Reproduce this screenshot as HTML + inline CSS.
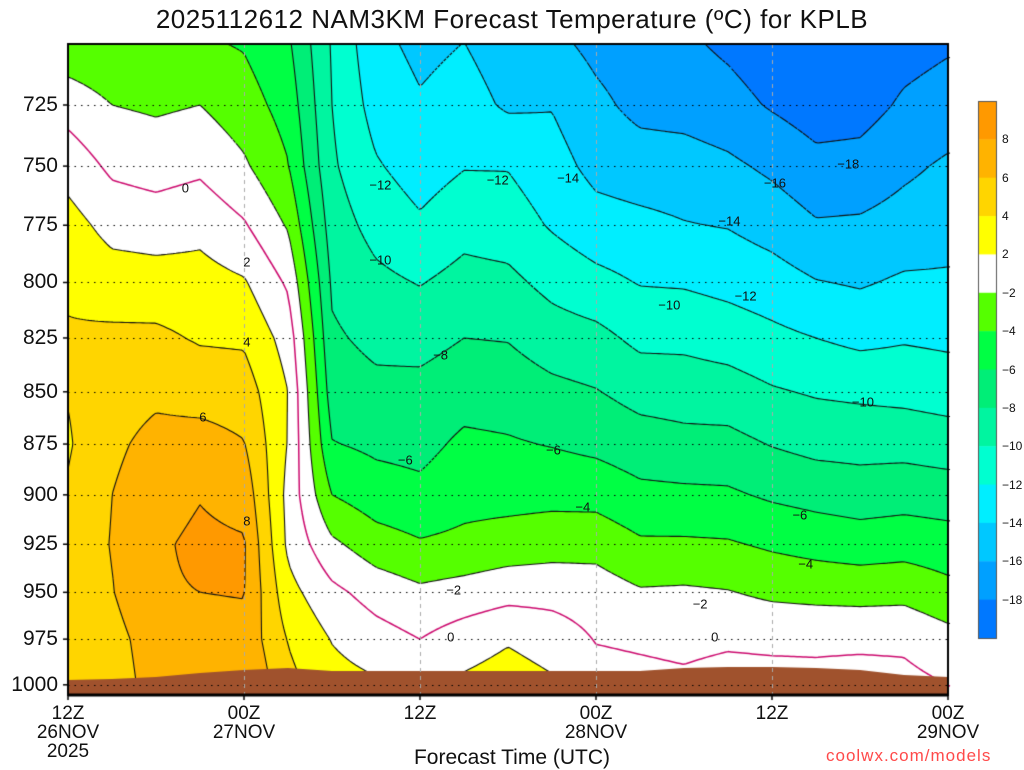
<!DOCTYPE html>
<html><head><meta charset="utf-8">
<style>
html,body{margin:0;padding:0;background:#fff;}
body{width:1024px;height:768px;position:relative;overflow:hidden;font-family:"Liberation Sans",sans-serif;color:#111;}
.t{position:absolute;white-space:nowrap;}
.yl{position:absolute;right:966px;font-size:21px;transform:translateY(-50%);}
.xl{position:absolute;font-size:19px;transform:translateX(-50%);text-align:center;line-height:19px;}
.cl{position:absolute;font-size:13px;transform:translate(-50%,-50%);}
.cb{position:absolute;left:1002px;font-size:12px;transform:translateY(-50%);}
</style></head>
<body>
<div class="t" style="left:0;width:1024px;text-align:center;top:4px;font-size:26px;letter-spacing:0.5px;">2025112612 NAM3KM Forecast Temperature (ºC) for KPLB</div>
<canvas id="cv" width="1024" height="768" style="position:absolute;left:0;top:0;"></canvas>
<div id="labels"></div>
<div class="t" style="left:0;width:1024px;text-align:center;top:746px;font-size:21px;">Forecast Time (UTC)</div>
<div class="t" style="left:826px;top:746px;font-size:17px;color:#ff4a4a;letter-spacing:1px;">coolwx.com/models</div>
<script>
// ---- data ----
const times = [0,3,6,9,12,15,18,21,24,27,30,33,36,39,42,45,48,51,54,57,60];
const levels = [700,725,750,775,800,825,850,875,900,925,950,975,1000];
const h00=[-3.5,-0.8,1.2,2.8,3.7,4.2,4.1,3.8,4.2,4.7,4.7,4.3,4.3];
const h03=[-3.8,-2.0,-0.4,1.3,3.0,4.4,5.1,5.6,6.0,6.1,5.9,5.3,5.0];
const h06=[-3.8,-2.3,-0.8,1.0,2.9,4.4,5.6,6.6,7.2,7.7,7.8,7.0,6.8];
const h09=[-3.8,-2.0,-0.4,1.4,2.8,3.8,5.2,6.8,7.9,8.4,8.0,7.3,7.8];
const h12=[-4.2,-3.1,-1.7,0.2,2.2,3.7,5.0,6.1,7.3,8.2,8.1,7.4,8.1];
const h15=[-5.7,-4.8,-3.9,-2.2,-0.3,1.2,2.0,1.9,1.4,1.6,2.7,3.9,4.6];
const h18=[-10.2,-10.0,-9.7,-9.0,-8.3,-7.7,-7.0,-5.9,-4.0,-1.6,0.5,1.9,2.8];
const h21=[-13.5,-12.8,-11.8,-10.7,-9.5,-8.5,-7.5,-6.4,-5.1,-3.1,-0.8,0.8,2.3];
const h24=[-14.5,-13.8,-12.9,-11.7,-10.1,-8.7,-7.4,-6.6,-5.5,-3.8,-1.6,0.0,1.0];
const h27=[-14.0,-13.2,-12.1,-10.7,-9.3,-8.0,-6.8,-5.6,-4.7,-3.5,-1.2,1.0,2.4];
const h30=[-15.0,-14.3,-12.1,-11.0,-9.5,-8.1,-6.9,-5.8,-4.7,-3.1,-0.7,1.8,3.0];
const h33=[-15.5,-14.1,-13.2,-12.2,-10.6,-9.0,-7.5,-6.1,-4.6,-2.8,-0.7,1.1,2.3];
const h36=[-16.6,-15.5,-14.6,-13.2,-11.4,-9.4,-7.9,-6.5,-4.7,-2.7,-1.0,-0.1,0.8];
const h39=[-17.3,-16.6,-15.0,-13.5,-12.1,-10.5,-8.7,-7.1,-5.5,-3.7,-1.8,-0.3,0.6];
const h42=[-17.7,-16.8,-15.1,-13.9,-12.2,-10.5,-8.9,-7.4,-5.6,-3.7,-1.7,-0.5,0.4];
const h45=[-18.4,-17.3,-15.6,-14.1,-12.6,-10.9,-9.1,-7.4,-5.7,-3.8,-1.9,-0.3,0.8];
const h48=[-19.2,-18.2,-16.4,-14.8,-13.1,-11.5,-9.8,-8.1,-6.3,-4.3,-2.4,-0.4,0.7];
const h51=[-19.5,-19.0,-17.4,-15.8,-13.9,-12.0,-10.2,-8.6,-6.7,-4.7,-2.6,-0.4,0.6];
const h54=[-19.5,-18.8,-17.3,-15.7,-14.2,-12.5,-10.4,-8.7,-7.0,-5.0,-2.7,-0.4,0.8];
const h57=[-18.8,-17.7,-16.4,-15.2,-13.7,-12.2,-10.6,-8.7,-6.8,-4.8,-2.6,-0.4,0.6];
const h60=[-18.3,-17.1,-15.7,-14.8,-13.7,-12.4,-10.9,-9.0,-7.0,-5.1,-3.4,-1.3,0.0];
const surfacePressure=[997.3,996.8,995.7,993.5,991.8,990.7,992.4,992.4,992.4,992.4,992.4,992.4,992.4,992.4,990.7,990.2,990.2,990.7,991.8,994.6,995.7];
const yTicks=[725,750,775,800,825,850,875,900,925,950,975,1000];
const xTickHours=[0,12,24,36,48,60];
const xTickTop=["12Z","00Z","12Z","00Z","12Z","00Z"];
const xTickMid=["26NOV","27NOV","","28NOV","","29NOV"];
const xTickBot=["2025","","","","",""];
const cbLabels=[8,6,4,2,-2,-4,-6,-8,-10,-12,-14,-16,-18];
const contourLevels=[-18,-16,-14,-12,-10,-8,-6,-4,-2,0,2,4,6,8];
const contourLabelText=["0","2","4","6","8","−12","−10","−8","−6","−2","0","−12","−14","−6","−4","−10","−2","0","−16","−14","−12","−18","−10","−6","−4"];
const contourLabelHour=[8,12.2,12.2,9.2,12.2,21.3,21.3,25.4,23.0,26.3,26.1,29.3,34.1,33.1,35.1,41.0,43.1,44.1,48.2,45.1,46.2,53.2,54.2,49.9,50.3];
const contourLabelP=[759,791,827,862,913,758,790,833,883,949,974,756,755,878,906,810,956,974,757,773,806,749,855,910,935];
// ---- geometry ----
const cols=[h00,h03,h06,h09,h12,h15,h18,h21,h24,h27,h30,h33,h36,h39,h42,h45,h48,h51,h54,h57,h60];
const X0=68,X1=948,Y0=44,Y1=695;
const KY=1803;
const xOf=t=>X0+(t-times[0])*(X1-X0)/(times[times.length-1]-times[0]);
const yOf=p=>105+KY*Math.log(p/725);
const tOf=x=>(x-X0)*60/(X1-X0);
const pOf=y=>725*Math.exp((y-105)/KY);
function field(t,p){
  t=Math.max(0,Math.min(60,t)); p=Math.max(700,Math.min(1000,p));
  let i=Math.min(times.length-2,Math.floor(t/3));
  let j=0; while(j<levels.length-2 && p>levels[j+1]) j++;
  const a=(t-times[i])/(times[i+1]-times[i]);
  const b=Math.log(p/levels[j])/Math.log(levels[j+1]/levels[j]);
  const v00=cols[i][j],v01=cols[i][j+1],v10=cols[i+1][j],v11=cols[i+1][j+1];
  return (v00*(1-a)+v10*a)*(1-b)+(v01*(1-a)+v11*a)*b;
}
const bandColors=[[255,153,0],[255,179,0],[255,213,0],[255,255,0],[255,255,255],[85,255,0],[0,255,68],[0,238,119],[0,245,160],[0,255,208],[0,238,255],[0,200,255],[0,160,255],[0,120,255]];
const bandLo=[8,6,4,2,-2,-4,-6,-8,-10,-12,-14,-16,-18,-999];
function band(v){for(let k=0;k<bandLo.length;k++){if(v>=bandLo[k])return k;}return 13;}
const cv=document.getElementById('cv');const ctx=cv.getContext('2d');
const W=X1-X0,H=Y1-Y0;
const img=ctx.createImageData(W,H);
for(let py=0;py<H;py++){const p=pOf(Y0+py+0.5);
  for(let px=0;px<W;px++){const c=bandColors[band(field(tOf(X0+px+0.5),p))];const o=(py*W+px)*4;
    img.data[o]=c[0];img.data[o+1]=c[1];img.data[o+2]=c[2];img.data[o+3]=255;}}
ctx.putImageData(img,X0,Y0);
// contours
const S=3,nx=Math.ceil(W/S)+1,ny=Math.ceil(H/S)+1;
const G=[];for(let j=0;j<ny;j++){G.push([]);for(let i=0;i<nx;i++){G[j].push(field(tOf(X0+i*S),pOf(Y0+j*S)));}}
contourLevels.forEach(L=>{
  ctx.beginPath();
  for(let j=0;j<ny-1;j++)for(let i=0;i<nx-1;i++){
    const v=[G[j][i],G[j][i+1],G[j+1][i+1],G[j+1][i]];
    const P=[[i,j],[i+1,j],[i+1,j+1],[i,j+1]];const pts=[];
    for(let e=0;e<4;e++){const a=v[e],b=v[(e+1)%4];
      if((a<L)!==(b<L)){const f=(L-a)/(b-a);const A=P[e],B=P[(e+1)%4];
        pts.push([X0+(A[0]+(B[0]-A[0])*f)*S,Y0+(A[1]+(B[1]-A[1])*f)*S]);}}
    for(let k=0;k+1<pts.length;k+=2){ctx.moveTo(pts[k][0],pts[k][1]);ctx.lineTo(pts[k+1][0],pts[k+1][1]);}
  }
  ctx.lineWidth=1.1;
  if(L<0){ctx.strokeStyle='#111';ctx.setLineDash([3,3]);}
  else if(L===0){ctx.strokeStyle='#cc0a6e';ctx.setLineDash([]);ctx.lineWidth=1.5;}
  else{ctx.strokeStyle='#111';ctx.setLineDash([]);}
  ctx.stroke();ctx.setLineDash([]);
});
// ground
ctx.beginPath();ctx.moveTo(X0,Y1);
surfacePressure.forEach((p,k)=>ctx.lineTo(xOf(times[k]),yOf(p)));
ctx.lineTo(X1,Y1);ctx.closePath();ctx.fillStyle='#a0522d';ctx.fill();
// grid
ctx.strokeStyle='#000';ctx.lineWidth=1;ctx.setLineDash([1.5,5]);
yTicks.forEach(p=>{const y=Math.round(yOf(p))+0.5;ctx.beginPath();ctx.moveTo(X0,y);ctx.lineTo(X1,y);ctx.stroke();});
ctx.strokeStyle='#aaa';ctx.setLineDash([4,4]);
xTickHours.forEach(h=>{if(h>0&&h<60){const x=Math.round(xOf(h))+0.5;ctx.beginPath();ctx.moveTo(x,Y0);ctx.lineTo(x,Y1);ctx.stroke();}});
ctx.setLineDash([]);
// frame
ctx.strokeStyle='#000';ctx.lineWidth=2;ctx.strokeRect(X0,Y0,W,H);
ctx.lineWidth=3;ctx.beginPath();ctx.moveTo(X0,Y1);ctx.lineTo(X1,Y1);ctx.stroke();
ctx.lineWidth=1.5;
yTicks.forEach(p=>{ctx.beginPath();ctx.moveTo(X0-5,yOf(p));ctx.lineTo(X0,yOf(p));ctx.stroke();});
xTickHours.forEach(h=>{ctx.beginPath();ctx.moveTo(xOf(h),Y1);ctx.lineTo(xOf(h),Y1+5);ctx.stroke();});
// colorbar
const CBx=978,CBy=101,CBh=537,bh=CBh/bandColors.length;
bandColors.forEach((c,k)=>{ctx.fillStyle='rgb('+c.join(',')+')';ctx.fillRect(CBx,CBy+k*bh,18,bh+0.5);});
ctx.strokeStyle='#555';ctx.lineWidth=1;ctx.strokeRect(CBx+0.5,CBy+0.5,18,CBh);
// labels
const lab=document.getElementById('labels');
yTicks.forEach(p=>{const d=document.createElement('div');d.className='yl';d.style.top=yOf(p)+'px';d.textContent=p;


lab.appendChild(d);});
xTickHours.forEach((h,k)=>{const d=document.createElement('div');d.className='xl';d.style.left=xOf(h)+'px';d.style.top='704px';
d.innerHTML=xTickTop[k]+'<br>'+xTickMid[k]+'<br>'+xTickBot[k];


lab.appendChild(d);});
cbLabels.forEach((v,k)=>{const d=document.createElement('div');d.className='cb';d.style.top=(CBy+(k+1)*bh)+'px';d.textContent=v<0?'−'+(-v):v;


lab.appendChild(d);});
contourLabelText.forEach((s,k)=>{const d=document.createElement('div');d.className='cl';
d.style.left=xOf(contourLabelHour[k])+'px';d.style.top=yOf(contourLabelP[k])+'px';d.textContent=s;


lab.appendChild(d);});
</script>
</body></html>
